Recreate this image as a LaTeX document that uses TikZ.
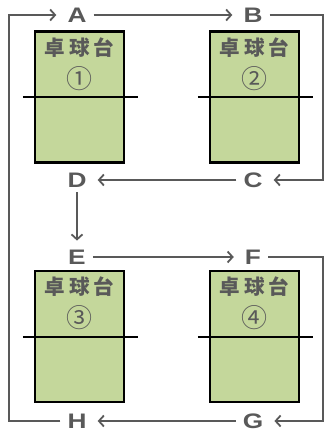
\documentclass[tikz,border=0pt]{standalone}
\usepackage{fontspec}
\newfontfamily\lblfont[FakeStretch=1.25]{Liberation Sans}
\newfontfamily\jpfont{Noto Sans CJK JP}
\definecolor{tablegreen}{RGB}{196, 215, 155}
\definecolor{inkgray}{RGB}{89, 89, 89}
\usetikzlibrary{arrows.meta, positioning, calc}

\begin{document}
\begin{tikzpicture}[
  x=1pt, y=-1pt,
  spot/.style={font=\lblfont\bfseries\fontsize{21}{21}\selectfont, text=inkgray, inner xsep=7pt, inner ysep=5pt},
  tbl/.style={draw=black, line width=2.5pt, fill=tablegreen, minimum width=89pt, minimum height=131pt, inner sep=0pt},
  ttl/.style={font=\jpfont\bfseries\fontsize{20.5}{20.5}\selectfont, text=inkgray, inner sep=0pt},
  num/.style={font=\jpfont\fontsize{26}{26}\selectfont, text=inkgray, inner sep=0pt},
  net/.style={draw=black, line width=2pt},
  conn/.style={draw=inkgray, line width=1.8pt},
  arr/.style={-{Straight Barb[length=5pt, width=11pt]}, shorten >=4pt}
]
  \useasboundingbox (0,0) rectangle (332,435);

  % tables
  \foreach \n/\x/\y/\c in {1/79.5/97/①, 2/254.5/97/②, 3/79.5/336.5/③, 4/254.5/336.5/④} {
    \node[tbl] (t\n) at (\x,\y) {};
    \node[ttl] (ttl\n) at ($(t\n.north)+(0,17)$) {卓\hspace{4pt}球\hspace{4pt}台};
    \node[num] (num\n) at ($(t\n.north)+(0,48)$) {\c};
    \draw[net] ([xshift=-11pt]t\n.west) -- ([xshift=13pt]t\n.east);
  }

  % points
  \node[spot] (A) at (77,15) {A};
  \node[spot] (B) at (253,15) {B};
  \node[spot] (C) at (253,180) {C};
  \node[spot] (D) at (77,180) {D};
  \node[spot] (E) at (77,257) {E};
  \node[spot] (F) at (253,257) {F};
  \node[spot] (G) at (253,421) {G};
  \node[spot] (H) at (77,421) {H};

  \coordinate (lft) at (9,421);
  \coordinate (rgt1) at (323,15);
  \coordinate (rgt2) at (323,257);

  % route
  \draw[conn, arr] (H) -- (lft) |- (A);
  \draw[conn, arr] (A) -- (B);
  \draw[conn, arr] (B) -- (rgt1) |- (C);
  \draw[conn, arr] (C) -- (D);
  \draw[conn, arr] (D) -- (E);
  \draw[conn, arr] (E) -- (F);
  \draw[conn, arr] (F) -- (rgt2) |- (G);
  \draw[conn, arr] (G) -- (H);
\end{tikzpicture}
\end{document}
